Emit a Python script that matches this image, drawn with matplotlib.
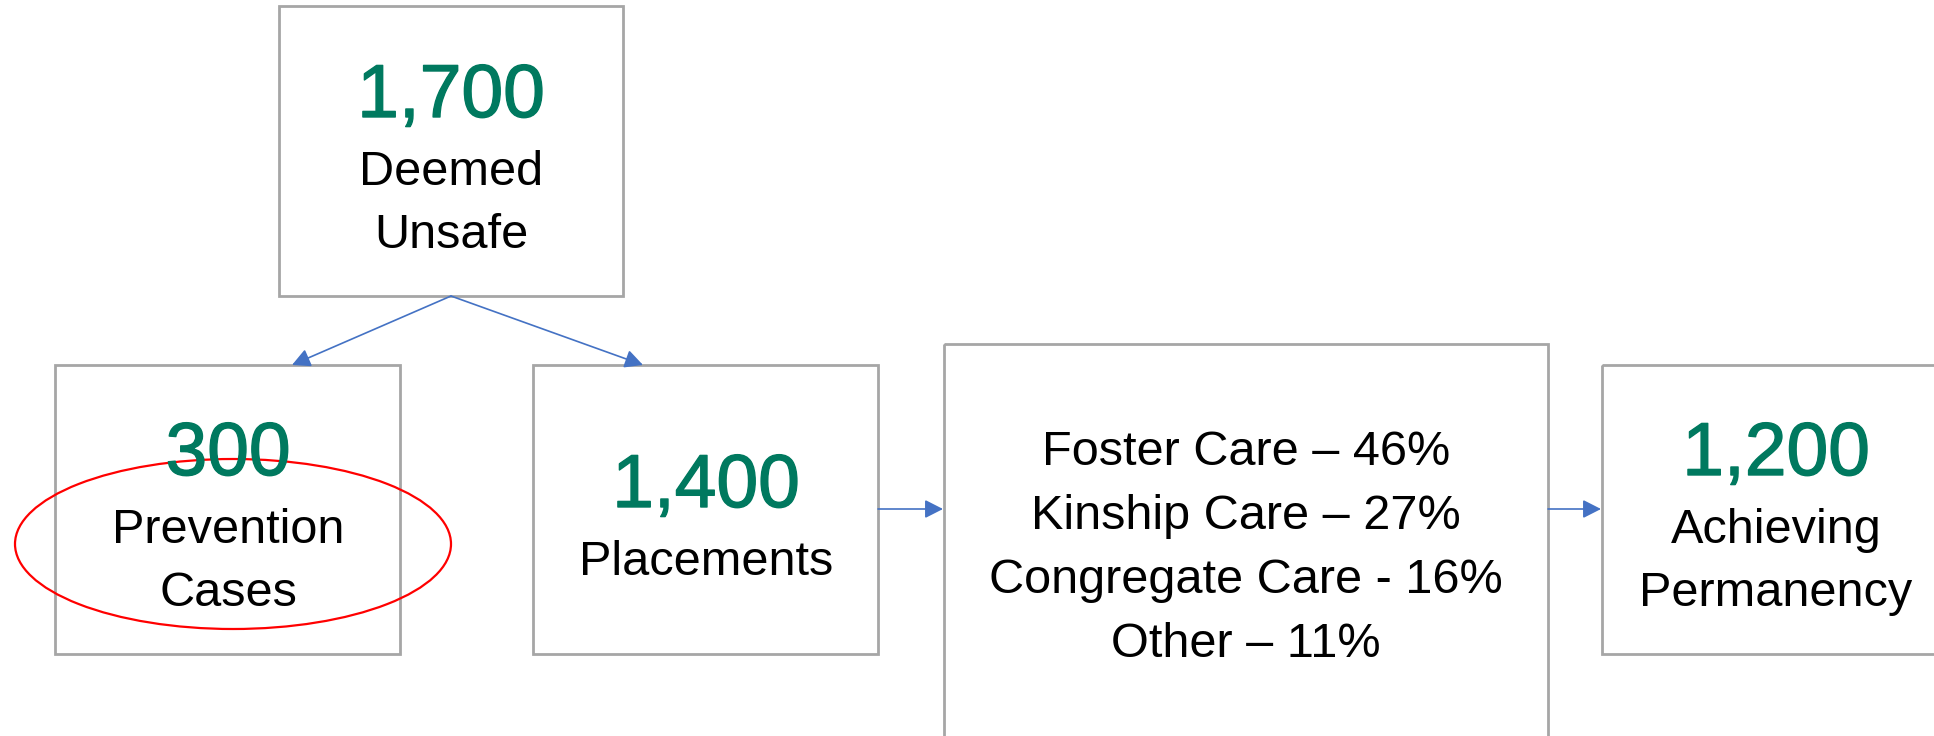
import matplotlib.pyplot as plt
import matplotlib.patheffects as pe
from matplotlib.patches import Rectangle, Ellipse

plt.rcParams['font.family'] = ['Liberation Sans', 'DejaVu Sans']

# Flow values and labels
counts = ['1,700', '300', '1,400', '1,200']
labels = ['Deemed\nUnsafe', 'Prevention\nCases', 'Placements', 'Achieving\nPermanency']
care_types = ['Foster Care', 'Kinship Care', 'Congregate Care', 'Other']
care_pct = [46, 27, 16, 11]
care_sep = ['–', '–', '-', '–']

green = '#00795F'
blue = '#4472C4'
grey = '#A6A6A6'

fig = plt.figure(figsize=(19.34, 7.36), dpi=100)
ax = fig.add_axes([0, 0, 1, 1])
ax.set_xlim(0, 1934)
ax.set_ylim(736, 0)
ax.axis('off')

# boxes: (left, top, width, height) in pixels
boxes = [(279, 6, 344, 290), (55, 365, 345, 289), (533, 365, 345, 289),
         (944, 344, 604, 500), (1602, 365, 400, 289)]
for x, y, w, h in boxes:
    ax.add_patch(Rectangle((x, y), w, h, fill=False, edgecolor=grey, linewidth=2))

num_kw = dict(color=green, fontsize=54, ha='center', va='baseline',
              path_effects=[pe.withStroke(linewidth=1.0, foreground=green)])
lab_kw = dict(color='black', fontsize=35, ha='center', va='baseline')

# number boxes: (center x, number baseline, label baseline of first line)
spots = [(451, 117, 185), (228, 475, 543), (706, 507, 575), (1776, 475, 543)]
for (cx, yn, yl), c, lab in zip(spots, counts, labels):
    ax.text(cx, yn, c, **num_kw)
    for i, line in enumerate(lab.split('\n')):
        ax.text(cx, yl + i * 63, line, **lab_kw)

# placement breakdown
for i, (t, p, s) in enumerate(zip(care_types, care_pct, care_sep)):
    ax.text(1246, 465 + i * 64, f'{t} {s} {p}%', **lab_kw)

# arrows
arrow = dict(arrowstyle='-|>,head_length=0.55,head_width=0.28', color=blue,
             lw=1.2, shrinkA=0, shrinkB=0, mutation_scale=20)
links = [((451, 296), (292, 365)), ((451, 296), (643, 365)),
         ((878, 509), (943, 509)), ((1548, 509), (1601, 509))]
for a, b in links:
    ax.annotate('', xy=b, xytext=a, arrowprops=arrow)

# red highlight ellipse around prevention cases
ax.add_patch(Ellipse((233, 544), 436, 170, fill=False, edgecolor='#FF0000', linewidth=1.6))

plt.savefig('out.png', dpi=100)
